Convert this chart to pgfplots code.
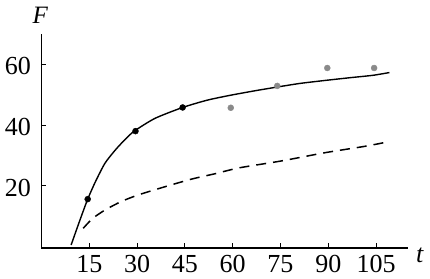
\documentclass[border=0pt]{standalone}
\usepackage{fontspec}
\setmainfont{Liberation Serif}
\usepackage{pgfplots}
\pgfplotsset{compat=1.18}
\definecolor{dotgray}{RGB}{138,138,138}
\begin{document}
\begin{tikzpicture}
\useasboundingbox (-41.5pt,-30pt) rectangle (388.5pt,248pt);
\begin{axis}[
  scale only axis,
  width=366.4pt, height=214pt,
  at={(0pt,0pt)}, anchor=south west,
  xmin=0, xmax=115, ymin=-0.5, ymax=70,
  axis lines=left,
  axis line style={-, line width=1.5pt},
  xtick={15,30,45,60,75,90,105},
  ytick={20,40,60},
  tick align=inside,
  major tick length=5pt,
  tick style={line width=1pt, black},
  /pgf/number format/assume math mode=true,
  ticklabel style={font=\fontsize{26}{30}\selectfont},
  xticklabel style={yshift=-4pt},
  yticklabel style={xshift=-7pt, yshift=-2pt},
  clip=false,
  xlabel={\textit{t}},
  xlabel style={at={(axis description cs:1.033,-0.033)}, anchor=center, font=\fontsize{26}{30}\selectfont},
  ylabel={\textit{F}},
  ylabel style={at={(axis description cs:-0.003,1.089)}, anchor=center, rotate=-90, font=\fontsize{25}{30}\selectfont},
]
\addplot[black, line width=1.4pt, smooth, tension=0.4] coordinates {
 (9.3,0.5) (12,8.5) (14.5,15.6) (17,21.5) (19.9,27.4) (23.1,31.7) (26,35) (29.1,38)
 (35.6,42.2) (44.3,45.8) (52,48.2) (59.2,49.8) (67,51.3) (73.8,52.5) (81,53.7)
 (89,54.7) (96.8,55.6) (104.1,56.4) (109.2,57.3)
};
\addplot[black, line width=1.5pt, dash pattern=on 10pt off 7pt, smooth, tension=0.4] coordinates {
 (13.1,6) (16,9.2) (19.9,12) (25,14.8) (30.4,17) (38.8,19.7) (47.1,22.2) (54.6,24)
 (62,25.9) (75.4,28.2) (89,30.9) (101.5,33) (108.9,34.5)
};
\addplot[only marks, mark=*, mark size=3pt, black] coordinates {
 (14.5,15.6) (29.5,38) (44.3,45.8)
};
\addplot[only marks, mark=*, mark size=3pt, dotgray, mark options={draw=dotgray, fill=dotgray}] coordinates {
 (59.4,45.7) (74,52.9) (89.7,58.8) (104.4,58.8)
};
\end{axis}
\end{tikzpicture}
\end{document}
